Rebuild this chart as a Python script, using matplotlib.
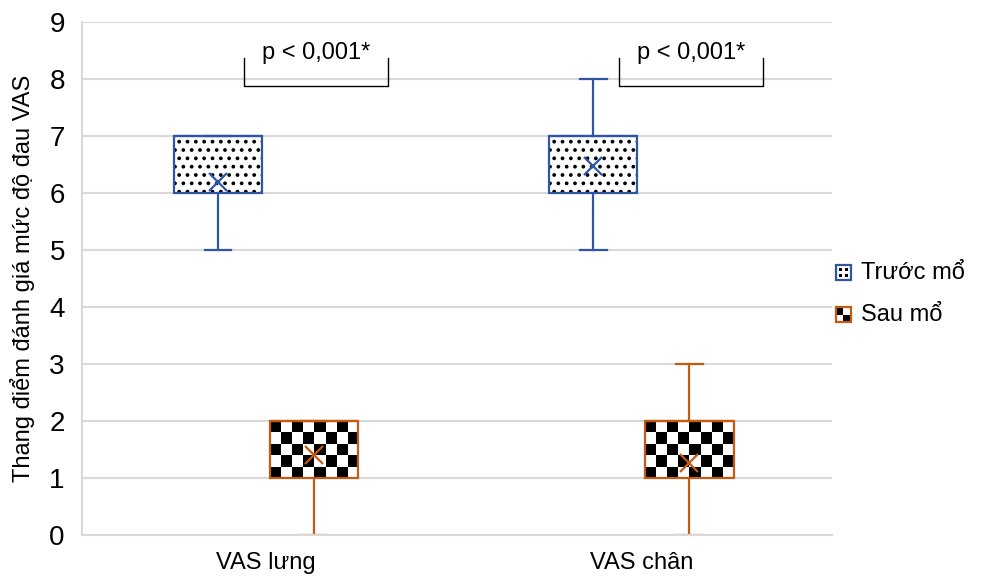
import numpy as np
import matplotlib.pyplot as plt
from matplotlib.patches import Rectangle
from matplotlib.legend_handler import HandlerBase

plt.rcParams['font.family'] = ['Liberation Sans', 'DejaVu Sans']
plt.rcParams['hatch.linewidth'] = 1.5

categories = ['VAS lưng', 'VAS chân']
series = ['Trước mổ', 'Sau mổ']
# box stats per series, per category: (whislo, q1, med, q3, whishi, mean)
truoc = [(5, 6, 7, 7, 7, 6.2), (5, 6, 7, 7, 8, 6.47)]
sau = [(0, 1, 2, 2, 2, 1.4), (0, 1, 2, 2, 3, 1.26)]
p_text = ['p < 0,001*', 'p < 0,001*']
yticks = list(range(0, 10))

BLUE = '#2F55A4'
ORANGE = '#C55A11'
GRID = '#D9D9D9'

OFFSET = 0.128
WIDTH = 0.235
CAPW = 0.07

fig = plt.figure(figsize=(9.98, 5.76), dpi=100)
ax = fig.add_axes([0.0817, 0.0712, 0.752, 0.8906])


def to_stats(rows):
    return [dict(whislo=r[0], q1=r[1], med=r[2], q3=r[3], whishi=r[4],
                 mean=r[5], fliers=[]) for r in rows]


x = np.arange(len(categories))


def draw(rows, pos, color):
    props = dict(color=color, linewidth=1.6)
    bp = ax.bxp(to_stats(rows), positions=pos, widths=WIDTH, showmeans=True,
                patch_artist=True, capwidths=CAPW, manage_ticks=False,
                boxprops=dict(edgecolor=color, facecolor='none', linewidth=1.6),
                whiskerprops=props, capprops=props,
                medianprops=dict(color=color, linewidth=1.6),
                meanprops=dict(marker='x', markeredgecolor=color, markersize=13,
                               markeredgewidth=1.6))
    for art in bp['boxes'] + bp['whiskers'] + bp['caps'] + bp['medians'] + bp['means']:
        art.set_zorder(3)
    return bp


# pattern fills
for i, r in enumerate(truoc):
    ax.add_patch(Rectangle((x[i] - OFFSET - WIDTH / 2, r[1]), WIDTH, r[3] - r[1],
                           facecolor='white', edgecolor='black', hatch='..',
                           linewidth=0, zorder=2))

checker = np.indices((5, 8)).sum(axis=0) % 2
for i, r in enumerate(sau):
    x0 = x[i] + OFFSET - WIDTH / 2
    ax.imshow(checker, cmap='gray', extent=(x0, x0 + WIDTH, r[1], r[3]),
              aspect='auto', interpolation='nearest', zorder=2)

draw(truoc, x - OFFSET, BLUE)
draw(sau, x + OFFSET, ORANGE)

# significance brackets
for i, t in enumerate(p_text):
    xl, xr = x[i] - 0.06, x[i] + 0.325
    ax.plot([xl, xl, xr, xr], [8.37, 7.88, 7.88, 8.37], color='black',
            linewidth=1.0, zorder=4, clip_on=False)
    ax.text((xl + xr) / 2, 8.45, t, ha='center', va='center', fontsize=17)

ax.set_xlim(-0.492, 1.508)
ax.set_ylim(0, 9)
ax.set_yticks(yticks)
ax.set_xticks(x)
ax.set_xticklabels(categories, fontsize=17)
ax.tick_params(axis='y', labelsize=20, length=0, pad=12)
ax.tick_params(axis='x', length=0, pad=12)
ax.grid(axis='y', color=GRID, linewidth=1.5, zorder=0)
ax.set_axisbelow(True)
for s in ['top', 'right']:
    ax.spines[s].set_visible(False)
ax.spines['left'].set_color(GRID)
ax.spines['left'].set_linewidth(1.5)
ax.spines['bottom'].set_color(GRID)
ax.spines['bottom'].set_linewidth(1.5)
ax.spines['bottom'].set_zorder(5)
ax.set_ylabel('Thang điểm đánh giá mức độ đau VAS', fontsize=17, labelpad=10)


class PatternHandler(HandlerBase):
    def __init__(self, kind, color):
        super().__init__()
        self.kind = kind
        self.color = color

    def create_artists(self, legend, orig, xd, yd, w, h, fs, trans):
        s = h
        x0 = xd + (w - s) / 2
        arts = [Rectangle((x0, yd), s, s, facecolor='white', edgecolor='none',
                          transform=trans)]
        if self.kind == 'dots':
            for dx, dy in [(0.3, 0.3), (0.7, 0.3), (0.3, 0.7), (0.7, 0.7)]:
                arts.append(Rectangle((x0 + dx * s - 1, yd + dy * s - 1), 2, 2,
                                      facecolor='black', edgecolor='none',
                                      transform=trans))
        else:
            arts.append(Rectangle((x0, yd + s / 2), s / 2, s / 2, facecolor='black',
                                  edgecolor='none', transform=trans))
            arts.append(Rectangle((x0 + s / 2, yd), s / 2, s / 2, facecolor='black',
                                  edgecolor='none', transform=trans))
        arts.append(Rectangle((x0, yd), s, s, facecolor='none', edgecolor=self.color,
                              linewidth=1.6, transform=trans))
        return arts


h1 = Rectangle((0, 0), 1, 1)
h2 = Rectangle((0, 0), 1, 1)
fig.legend([h1, h2], series, loc='center left', bbox_to_anchor=(0.838, 0.489),
           frameon=False, fontsize=17, handlelength=0.6, handleheight=0.6,
           handletextpad=0.45, labelspacing=0.85, borderpad=0, borderaxespad=0,
           handler_map={h1: PatternHandler('dots', BLUE),
                        h2: PatternHandler('check', ORANGE)})

fig.savefig('out.png', dpi=100)
